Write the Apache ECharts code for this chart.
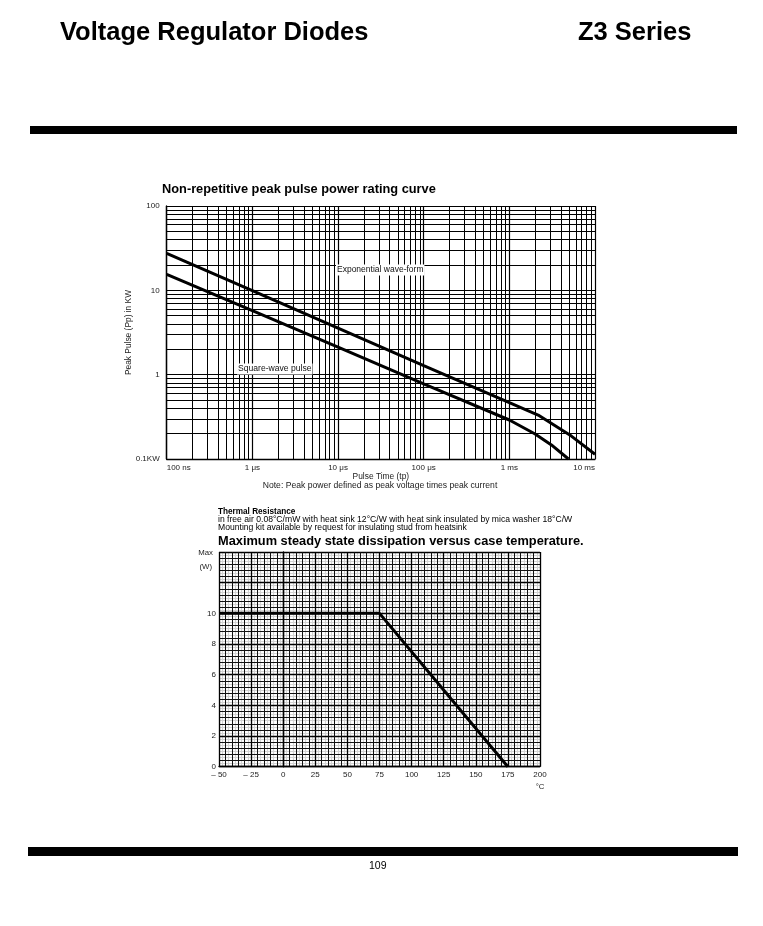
<!DOCTYPE html>
<html>
<head>
<meta charset="utf-8">
<script src="https://cdn.jsdelivr.net/npm/echarts@6/dist/echarts.min.js"></script>
<style>
    html, body { margin: 0; padding: 0; background: #fff; }
    #main { width: 763px; height: 926px; }
</style>
</head>
<body>
<div id="main"></div>
<script>
// pulse curve: time in microseconds, power in KW
var expTime = [0.1, 1, 10, 100, 1000, 2170, 5300, 10000];
var expPower = [27.5, 9.9, 3.57, 1.28, 0.465, 0.332, 0.187, 0.114];
var sqTime = [0.1, 1, 10, 100, 1000, 2000, 3100, 4900];
var sqPower = [15.5, 5.75, 2.12, 0.78, 0.29, 0.198, 0.147, 0.1];

var pulseTicks = { 0.1: '100 ns', 1: '1 \u03bcs', 10: '10 \u03bcs', 100: '100 \u03bcs', 1000: '1 ms', 10000: '10 ms' };
var powerTicks = { 0.1: '0.1KW', 1: '1', 10: '10', 100: '100' };

// dissipation curve
var caseTemp = [-50, 75, 175];
var maxWatts = [10, 10, 0];

var decadesX = [0.1, 1, 10, 100, 1000];
var decadesY = [0.1, 1, 10];
var multiples = [2, 3, 4, 5, 6, 7, 8, 9];

var font = 'Liberation Sans, Arial, sans-serif';

function logGrid(decades, key) {
    var out = [];
    for (var i = 0; i < decades.length; i++) {
        for (var j = 0; j < multiples.length; j++) {
            var o = {};
            o[key] = +(decades[i] * multiples[j]).toPrecision(3);
            out.push(o);
        }
    }
    return out;
}

function pairs(xs, ys) {
    var d = [];
    for (var i = 0; i < xs.length; i++) d.push([xs[i], ys[i]]);
    return d;
}

var myChart = echarts.init(document.getElementById('main'), null, { renderer: 'canvas' });

var option = {
    backgroundColor: '#fff',
    animation: false,
    textStyle: { fontFamily: font },
    grid: [
        { left: 166.7, top: 206, width: 428.3, height: 253 },
        { left: 219, top: 552, width: 321, height: 214.7 }
    ],
    xAxis: [
        {
            gridIndex: 0, type: 'log', logBase: 10, min: 0.1, max: 10000, z: 2,
            axisLine: { lineStyle: { color: '#000', width: 1.4 } },
            axisTick: { show: false },
            splitLine: { show: true, lineStyle: { color: '#000', width: 1.2 } },
            axisLabel: {
                fontSize: 8, color: '#222', margin: 5, alignMinLabel: 'left', alignMaxLabel: 'right',
                formatter: function (v) { return pulseTicks[+v.toPrecision(3)] || ''; }
            },
            name: 'Pulse Time (tp)', nameLocation: 'middle', nameGap: 13,
            nameTextStyle: { fontSize: 8.4, color: '#222' }
        },
        {
            gridIndex: 1, type: 'value', min: -50, max: 200, interval: 25, z: 2,
            axisLine: { lineStyle: { color: '#000', width: 1.4 } },
            axisTick: { show: false },
            splitLine: { show: true, lineStyle: { color: '#000', width: 1.3 } },
            minorTick: { show: false, splitNumber: 5 },
            minorSplitLine: { show: true, lineStyle: { color: '#111', width: 1 } },
            axisLabel: {
                fontSize: 8, color: '#222', margin: 4,
                formatter: function (v) { return v < 0 ? '\u2013 ' + Math.abs(v) : String(v); }
            }
        },
        {
            gridIndex: 1, type: 'value', min: -50, max: 200, interval: 2.5, z: 0,
            axisLine: { show: false }, axisTick: { show: false }, axisLabel: { show: false },
            splitLine: { show: true, lineStyle: { color: '#d2d2d2', width: 1.2 } }
        }
    ],
    yAxis: [
        {
            gridIndex: 0, type: 'log', logBase: 10, min: 0.1, max: 100, z: 2,
            axisLine: { lineStyle: { color: '#000', width: 1.4 } },
            axisTick: { show: false },
            splitLine: { show: true, lineStyle: { color: '#000', width: 1.2 } },
            axisLabel: {
                fontSize: 8, color: '#222', margin: 7,
                formatter: function (v) { return powerTicks[+v.toPrecision(3)] || ''; }
            },
            name: 'Peak Pulse (Pp) in KW', nameLocation: 'middle', nameGap: 34, nameRotate: 90,
            nameMoveOverlap: false,
            nameTextStyle: { fontSize: 8.4, color: '#222' }
        },
        {
            gridIndex: 1, type: 'value', min: 0, max: 14, interval: 2, z: 2,
            axisLine: { lineStyle: { color: '#000', width: 1.4 } },
            axisTick: { show: false },
            splitLine: { show: true, lineStyle: { color: '#000', width: 1.3 } },
            minorTick: { show: false, splitNumber: 5 },
            minorSplitLine: { show: true, lineStyle: { color: '#111', width: 1 } },
            axisLabel: {
                fontSize: 8, color: '#222', margin: 3,
                formatter: function (v) { return v <= 10 ? String(v) : ''; }
            }
        },
        {
            gridIndex: 1, type: 'value', min: 0, max: 14, interval: 0.2, z: 0,
            axisLine: { show: false }, axisTick: { show: false }, axisLabel: { show: false },
            splitLine: { show: true, lineStyle: { color: '#d2d2d2', width: 1.2 } }
        }
    ],
    series: [
        {
            name: 'logGrid', type: 'line', xAxisIndex: 0, yAxisIndex: 0, data: [], z: 1,
            markLine: {
                silent: true, symbol: 'none', label: { show: false },
                lineStyle: { color: '#000', width: 1, type: 'solid' },
                data: logGrid(decadesX, 'xAxis').concat(logGrid(decadesY, 'yAxis'))
            }
        },
        {
            name: 'Exponential wave-form', type: 'line', xAxisIndex: 0, yAxisIndex: 0, z: 5,
            showSymbol: false, symbol: 'none',
            lineStyle: { color: '#000', width: 3 },
            data: pairs(expTime, expPower)
        },
        {
            name: 'Square-wave pulse', type: 'line', xAxisIndex: 0, yAxisIndex: 0, z: 5,
            showSymbol: false, symbol: 'none',
            lineStyle: { color: '#000', width: 3 },
            data: pairs(sqTime, sqPower)
        },
        {
            name: 'Max dissipation', type: 'line', xAxisIndex: 1, yAxisIndex: 1, z: 5,
            showSymbol: false, symbol: 'none',
            lineStyle: { color: '#000', width: 3 },
            data: pairs(caseTemp, maxWatts)
        }
    ],
    graphic: [
        { type: 'text', left: 60, top: 20, style: { text: 'Voltage Regulator Diodes', font: 'bold 25.5px ' + font, fill: '#000' } },
        { type: 'text', left: 578, top: 20, style: { text: 'Z3 Series', font: 'bold 25.5px ' + font, fill: '#000' } },
        { type: 'rect', shape: { x: 30, y: 126, width: 707, height: 8 }, style: { fill: '#000' } },
        { type: 'rect', shape: { x: 28, y: 847, width: 710, height: 9 }, style: { fill: '#000' } },
        { type: 'text', left: 369, top: 861, style: { text: '109', font: '10.5px ' + font, fill: '#000' } },

        { type: 'text', left: 162, top: 183, style: { text: 'Non-repetitive peak pulse power rating curve', font: 'bold 12.8px ' + font, fill: '#000' } },
        { type: 'text', x: 380, y: 486, style: { text: 'Note: Peak power defined as peak voltage times peak current', font: '8.6px ' + font, fill: '#222', textAlign: 'center', textVerticalAlign: 'middle' } },
        { type: 'text', x: 336, y: 270, z: 10, style: { text: 'Exponential wave-form', font: '8.5px ' + font, fill: '#111', backgroundColor: '#fff', padding: [1, 1], textVerticalAlign: 'middle' } },
        { type: 'text', x: 237, y: 369, z: 10, style: { text: 'Square-wave pulse', font: '8.6px ' + font, fill: '#111', backgroundColor: '#fff', padding: [1, 1], textVerticalAlign: 'middle' } },

        { type: 'text', x: 218, y: 512, style: { text: 'Thermal Resistance', font: 'bold 8.2px ' + font, fill: '#000', textVerticalAlign: 'middle' } },
        { type: 'text', x: 218, y: 519.5, style: { text: 'in free air 0.08\u00b0C/mW with heat sink 12\u00b0C/W with heat sink insulated by mica washer 18\u00b0C/W', font: '8.6px ' + font, fill: '#000', textVerticalAlign: 'middle' } },
        { type: 'text', x: 218, y: 527.5, style: { text: 'Mounting kit available by request for insulating stud from heatsink', font: '8.6px ' + font, fill: '#000', textVerticalAlign: 'middle' } },
        { type: 'text', x: 218, y: 541, style: { text: 'Maximum steady state dissipation versus case temperature.', font: 'bold 12.8px ' + font, fill: '#000', textVerticalAlign: 'middle' } },
        { type: 'text', x: 213, y: 553, style: { text: 'Max', font: '7.8px ' + font, fill: '#222', textAlign: 'right', textVerticalAlign: 'middle' } },
        { type: 'text', x: 212, y: 567, style: { text: '(W)', font: '7.8px ' + font, fill: '#222', textAlign: 'right', textVerticalAlign: 'middle' } },
        { type: 'text', x: 540, y: 787, style: { text: '\u00b0C', font: '7.8px ' + font, fill: '#222', textAlign: 'center', textVerticalAlign: 'middle' } }
    ]
};

myChart.setOption(option, true);
window.onresize = myChart.resize;
</script>
</body>
</html>
